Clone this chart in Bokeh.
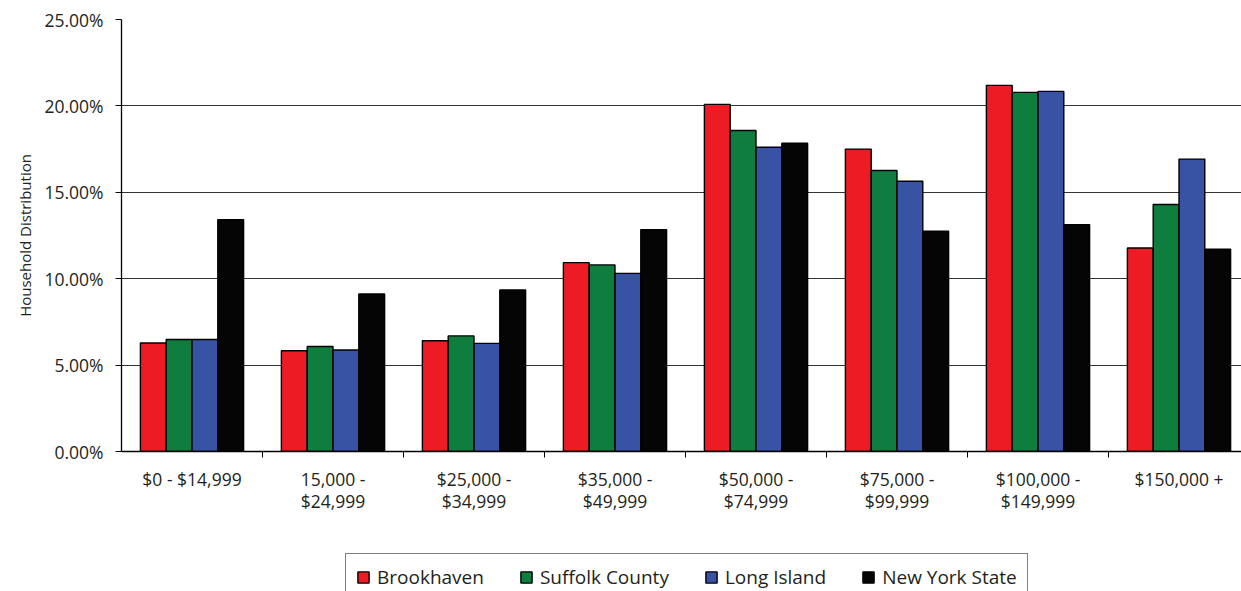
from bokeh.plotting import figure
from bokeh.layouts import column
from bokeh.models import (ColumnDataSource, FixedTicker, PrintfTickFormatter,
                          Legend, LegendItem, Range1d)
from bokeh.transform import dodge
from bokeh.embed import file_html
from bokeh.resources import INLINE

categories = ["$0 - $14,999", "15,000 -\n$24,999", "$25,000 -\n$34,999",
              "$35,000 -\n$49,999", "$50,000 -\n$74,999", "$75,000 -\n$99,999",
              "$100,000 -\n$149,999", "$150,000 +"]
brookhaven = [6.28, 5.83, 6.41, 10.93, 20.09, 17.50, 21.19, 11.78]
suffolk_county = [6.48, 6.08, 6.69, 10.80, 18.58, 16.26, 20.78, 14.29]
long_island = [6.48, 5.87, 6.26, 10.31, 17.61, 15.64, 20.84, 16.92]
new_york_state = [13.42, 9.12, 9.35, 12.84, 17.84, 12.75, 13.13, 11.70]
series_names = ["Brookhaven", "Suffolk County", "Long Island", "New York State"]
series_colors = ["#ED1C24", "#0E7D3E", "#3953A4", "#050505"]
y_ticks = [0, 5, 10, 15, 20, 25]

positions = [i + 0.5 for i in range(len(categories))]
source = ColumnDataSource(dict(x=positions, b=brookhaven, s=suffolk_county,
                               l=long_island, n=new_york_state))

FONT = "Open Sans"
TEXT = "#231f20"

p = figure(width=1241, height=551, output_backend="svg", toolbar_location=None,
           x_range=Range1d(0, 1120 / 141.0), y_range=Range1d(0, 25),
           min_border_left=121, min_border_right=0, min_border_top=19,
           min_border_bottom=100)
p.outline_line_color = None
p.background_fill_color = "white"
p.border_fill_color = "white"

bw = 0.183
offsets = [-1.5 * bw, -0.5 * bw, 0.5 * bw, 1.5 * bw]
fields = ["b", "s", "l", "n"]
for f, off, col in zip(fields, offsets, series_colors):
    p.vbar(x=dodge("x", off, range=p.x_range), top=f, width=bw, bottom=0,
           source=source, fill_color=col, line_color="black", line_width=1.4)

# x axis
xa = p.xaxis[0]
xa.ticker = FixedTicker(ticks=positions, minor_ticks=[1, 2, 3, 4, 5, 6, 7])
xa.major_label_overrides = {pos: lab for pos, lab in zip(positions, categories)}
xa.major_tick_out = 0
xa.major_tick_in = 0
xa.minor_tick_out = 6
xa.minor_tick_in = 0
xa.minor_tick_line_color = "black"
xa.axis_line_color = "black"
xa.axis_line_width = 1.3
xa.major_label_standoff = 9
xa.major_label_text_font = FONT
xa.major_label_text_font_size = "17.5px"
xa.major_label_text_color = TEXT
xa.major_label_text_line_height = 0.95

# y axis
ya = p.yaxis[0]
ya.ticker = FixedTicker(ticks=y_ticks, minor_ticks=[])
ya.formatter = PrintfTickFormatter(format="%.2f%%")
ya.major_tick_out = 6
ya.major_tick_in = 0
ya.major_tick_line_color = "black"
ya.axis_line_color = "black"
ya.axis_line_width = 1.3
ya.major_label_standoff = 12
ya.major_label_text_font = FONT
ya.major_label_text_font_size = "17.5px"
ya.major_label_text_color = TEXT
ya.axis_label = "Household Distribution"
ya.axis_label_text_font = FONT
ya.axis_label_text_font_size = "15px"
ya.axis_label_text_font_style = "normal"
ya.axis_label_text_color = TEXT
ya.axis_label_standoff = 6

p.xgrid.grid_line_color = None
p.ygrid.ticker = FixedTicker(ticks=y_ticks)
p.ygrid.grid_line_color = "#333333"
p.ygrid.grid_line_width = 1.2

# legend strip below the chart (same series, legend swatches only)
lg = figure(width=1241, height=40, output_backend="svg", toolbar_location=None,
            x_range=Range1d(0, 1), y_range=Range1d(0, 1),
            x_axis_location=None, y_axis_location=None,
            min_border_left=121, min_border_right=0, min_border_top=0,
            min_border_bottom=0)
lg.outline_line_color = None
lg.grid.grid_line_color = None
lg.background_fill_color = "white"
lg.border_fill_color = "white"
legend_renderers = []
for f, col in zip(fields, series_colors):
    r = lg.vbar(x="x", top=f, width=bw, source=source, fill_color=col,
                line_color="black", line_width=1.4, visible=False)
    legend_renderers.append(r)

legend = Legend(items=[LegendItem(label=n, renderers=[r])
                       for n, r in zip(series_names, legend_renderers)],
                orientation="horizontal", location=(224, -10), margin=0,
                label_text_font=FONT, label_text_font_size="19px", label_text_color=TEXT,
                glyph_width=14, glyph_height=14, label_standoff=7, spacing=35,
                padding=10, border_line_color="black", border_line_width=1.3,
                background_fill_alpha=1, background_fill_color="white",
                inactive_fill_alpha=0)
lg.add_layout(legend, "center")

layout = column(p, lg, spacing=0)
open("out.html", "w").write(file_html(layout, INLINE))
